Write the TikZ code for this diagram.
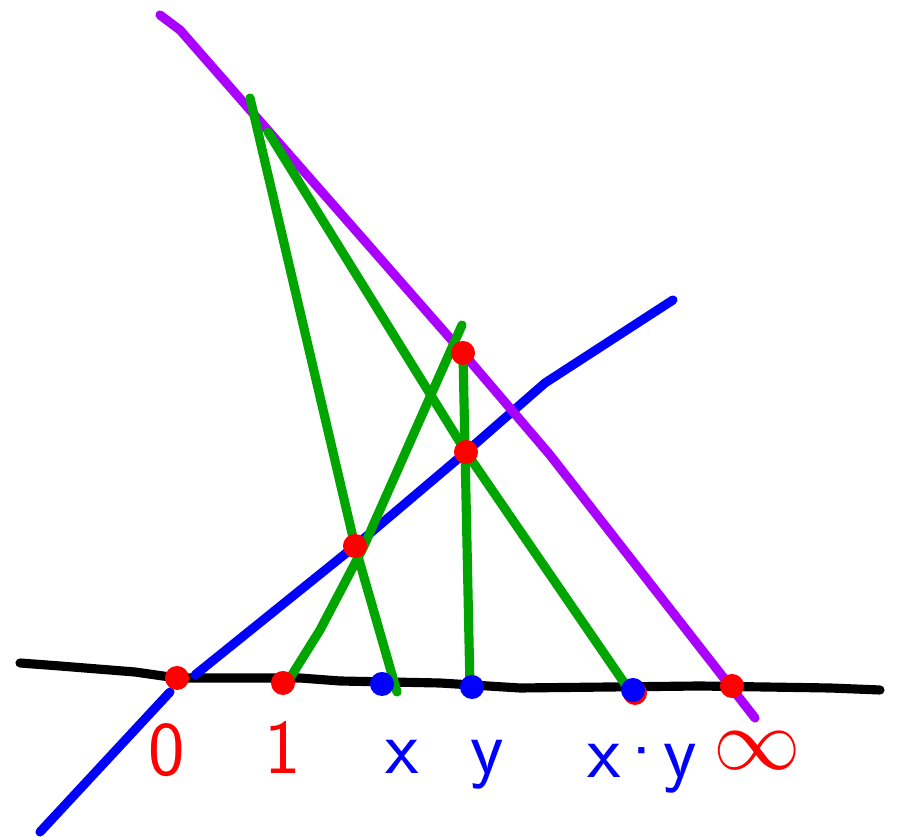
\documentclass[tikz,border=0pt]{standalone}
\usepackage{fontspec}
\usetikzlibrary{calc}
\definecolor{penred}{RGB}{255,0,0}
\definecolor{penblue}{RGB}{0,0,255}
\definecolor{penpurple}{RGB}{170,0,255}
\definecolor{pengreen}{RGB}{0,165,0}
\tikzset{
  stroke/.style={line width=2.6pt,line cap=round,line join=round},
  dot/.style={circle,inner sep=0pt,minimum size=0.24cm,fill=#1},
  lbl/.style={font=\sffamily\fontsize{22}{22}\selectfont,text=#1,anchor=base}
}
\begin{document}
\begin{tikzpicture}[x=0.01cm,y=-0.01cm]
\useasboundingbox (0,0) rectangle (899,837);
% points on the base line
\coordinate (L) at (20,663);
\coordinate (R) at (880,690);
\coordinate (P0) at (177,678);
\coordinate (P1) at (283,683);
\coordinate (X) at (382,684);
\coordinate (Y) at (472,687);
\coordinate (XY) at (633,690);
\coordinate (Inf) at (732,686);
% tops of the green lines
\coordinate (A) at (250,98);
\coordinate (B) at (268,132);
\coordinate (C) at (462,325);
% crossings
\coordinate (Q1) at (355,546);
\coordinate (Q2) at (463,353);
\coordinate (Q3) at (466,452);
% base line
\draw[black,stroke] (L) -- (60,666) -- (135,672) -- (P0) -- (300,678) -- (340,681) -- (440,683) -- (520,688) -- (700,686) -- (830,688) -- (R);
% blue line
\draw[penblue,stroke] (40,832) -- (170,692);
\draw[penblue,stroke] (195,675) -- (Q1) -- (Q3) -- (545,383) -- (673,300);
% purple line
\draw[penpurple,stroke] (160,15) -- (180,30) -- (Q2) -- (550,455) -- (755,718);
% green lines
\draw[pengreen,stroke] (A) -- (Q1) -- (397,692);
\draw[pengreen,stroke] (B) -- (Q3) -- (625,684);
\draw[pengreen,stroke] (290,678) -- (320,630) -- (363,548) -- (C);
\draw[pengreen,stroke] (Q2) -- (470,688);
% red and blue points
\node[dot=penred] (d0) at (P0) {};
\node[dot=penred] (d1) at (P1) {};
\node[dot=penred] (dInf) at (Inf) {};
\node[dot=penred] (q1) at (Q1) {};
\node[dot=penred] (q2) at (Q2) {};
\node[dot=penred] (q3) at (Q3) {};
\node[dot=penred] (dXYr) at ($(XY)+(2,3)$) {};
\node[dot=penblue] (dX) at (X) {};
\node[dot=penblue] (dY) at (Y) {};
\node[dot=penblue] (dXY) at (XY) {};
% labels
\node[lbl=penred] (l0) at (167,776) {0};
\node[lbl=penred] (l1) at (283,774) {1};
\node[lbl=penblue] (lX) at (402,774) {x};
\node[lbl=penblue] (lY) at (487,774) {y};
\node[lbl=penblue] (lXY) at (642,778) {x\kern-2pt·\kern-2pt y};
\node[lbl=penred,font=\fontsize{28}{28}\selectfont] (lInf) at (757,770) {$\infty$};
\end{tikzpicture}
\end{document}
